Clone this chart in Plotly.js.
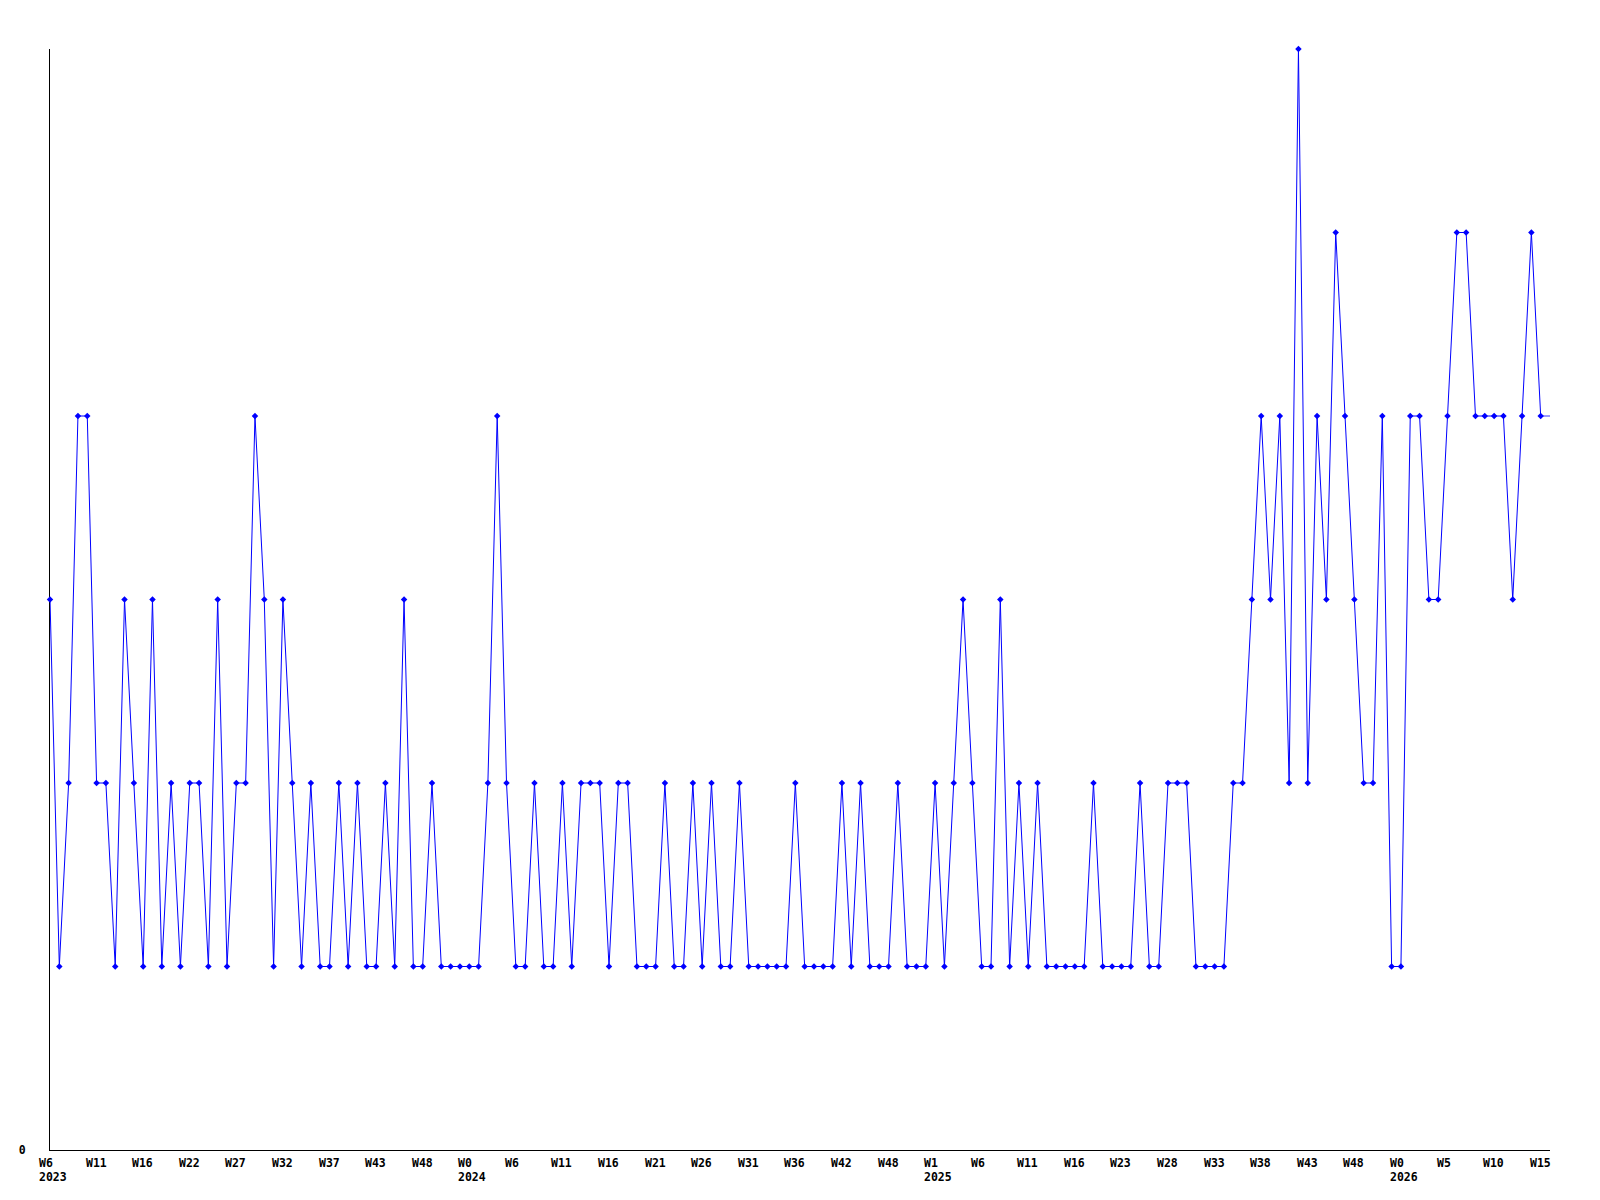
<!DOCTYPE html>
<html>
<head>
<meta charset="utf-8">
<script src="https://cdn.plot.ly/plotly-3.0.1.min.js"></script>
<style>
  html, body { margin: 0; padding: 0; background: #ffffff; }
  #chart { width: 1600px; height: 1200px; }
</style>
</head>
<body>
<div id="chart"></div>
<script>
// Weekly values, one per point, from W6 2023 onward
const weeklyValues = [
  3,1,2,4,4,2,2,1,3,2,1,3,1,2,1,2,2,1,3,1,2,2,4,3,1,3,2,1,2,1,1,2,1,2,1,1,2,1,3,1,1,2,1,
  1,1,1,1,2,4,2,1,1,2,1,1,2,1,2,2,2,1,2,2,1,1,1,2,1,1,2,1,2,1,1,2,1,1,1,1,1,2,1,1,1,1,2,
  1,2,1,1,1,2,1,1,1,2,1,2,3,2,1,1,3,1,2,1,2,1,1,1,1,1,2,1,1,1,1,2,1,1,2,2,2,1,1,1,1,2,2,
  3,4,3,4,2,6,2,4,3,5,4,3,2,2,4,1,1,4,4,3,3,4,5,5,4,4,4,4,3,4,5,4
];
// The line continues past the last marker to the next (undrawn) point
const nextValue = 4;

// Tick labels, one every 5 points
const tickLabels = [
  "W6","W11","W16","W22","W27","W32","W37","W43","W48",
  "W0","W6","W11","W16","W21","W26","W31","W36","W42","W48",
  "W1","W6","W11","W16","W23","W28","W33","W38","W43","W48",
  "W0","W5","W10","W15"
];
const tickStep = 5;
// Year labels and the point index under which each is shown
const yearLabels = ["2023","2024","2025","2026"];
const yearIndex = [0, 45, 95, 145];

const yTickVals = [0];
const yTickText = ["0"];

const xs = weeklyValues.map((_, i) => i);
const lastIdx = xs.length - 1;

const fontFam = '"DejaVu Sans Mono", "Liberation Mono", monospace';
const labelFont = { family: fontFam, size: 11.5, color: "#000000", weight: "bold" };

const annotations = [];
tickLabels.forEach((lab, k) => {
  annotations.push({
    x: k * tickStep, xref: "x", y: 0, yref: "paper",
    text: lab, showarrow: false,
    xanchor: "left", yanchor: "top", align: "left",
    xshift: -13, yshift: -3.5, font: labelFont
  });
});
yearLabels.forEach((lab, k) => {
  annotations.push({
    x: yearIndex[k], xref: "x", y: 0, yref: "paper",
    text: lab, showarrow: false,
    xanchor: "left", yanchor: "top", align: "left",
    xshift: -13, yshift: -18, font: labelFont
  });
});

const traces = [
  {
    x: xs, y: weeklyValues,
    type: "scatter", mode: "lines+markers",
    line: { color: "#0000ff", width: 1 },
    marker: { symbol: "diamond", size: 5, color: "#0000ff", line: { width: 0 } },
    cliponaxis: false,
    hoverinfo: "skip"
  },
  {
    x: [lastIdx, lastIdx + 1], y: [weeklyValues[lastIdx], nextValue],
    type: "scatter", mode: "lines",
    line: { color: "#0000ff", width: 0.8 },
    hoverinfo: "skip"
  }
];

const layout = {
  width: 1600, height: 1200,
  margin: { l: 50, r: 50, t: 49, b: 50, pad: 0 },
  paper_bgcolor: "#ffffff", plot_bgcolor: "#ffffff",
  showlegend: false,
  xaxis: {
    range: [0, lastIdx + 1],
    showgrid: false, zeroline: false,
    showline: true, linecolor: "#000000", linewidth: 1,
    showticklabels: false, ticks: "",
    layer: "below traces",
    fixedrange: true
  },
  yaxis: {
    range: [0, 6],
    showgrid: false, zeroline: false,
    showline: true, linecolor: "#000000", linewidth: 1,
    tickvals: yTickVals, ticktext: yTickText, ticks: "",
    ticklabelstandoff: 21,
    tickfont: labelFont,
    layer: "below traces",
    fixedrange: true
  },
  annotations: annotations
};

Plotly.newPlot("chart", traces, layout, { displayModeBar: false, staticPlot: true });
</script>
</body>
</html>
